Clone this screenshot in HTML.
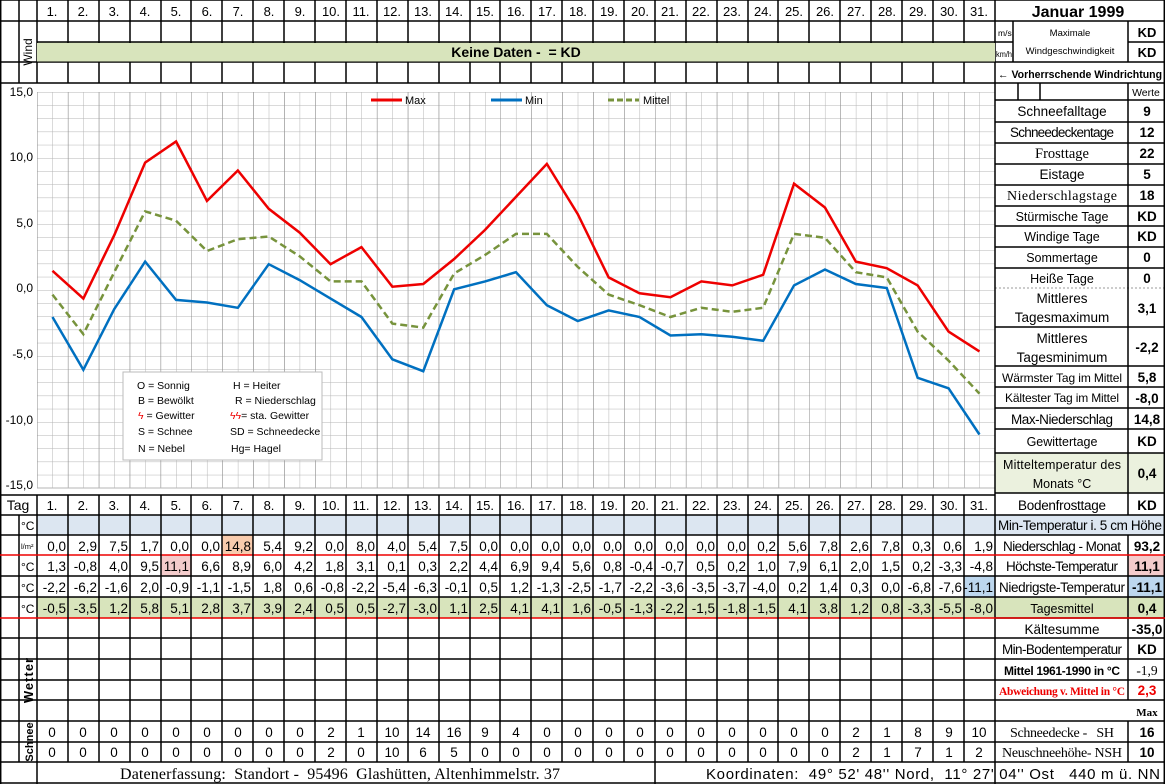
<!DOCTYPE html>
<html><head><meta charset="utf-8"><style>
html,body{margin:0;padding:0;background:#fff;}
svg{display:block;font-family:"Liberation Sans",sans-serif;}
.d{font-size:13px;text-anchor:middle;}
.n{font-size:13.5px;text-anchor:end;}
.c{font-size:13.5px;text-anchor:middle;}
.s{font-family:"Liberation Serif",serif;}
.b{font-weight:bold;}
</style></head><body>
<svg width="1165" height="784" viewBox="0 0 1165 784" xmlns="http://www.w3.org/2000/svg">
<defs>
<pattern id="g" x="37" y="92" width="15.45" height="13.2" patternUnits="userSpaceOnUse">
<path d="M0 0V13.2M0 0H15.45" stroke="#b4b4b4" stroke-width="1" fill="none"/>
</pattern>
<pattern id="g2" x="37" y="92" width="30.9" height="396" patternUnits="userSpaceOnUse">
<path d="M0 0V396" stroke="#8a8a8a" stroke-width="1" fill="none"/>
</pattern>
</defs>
<rect x="37" y="42" width="958" height="20" fill="#d8e4bc"/>
<rect x="37" y="515" width="1128" height="20" fill="#dce6f1"/>
<rect x="37" y="597" width="958" height="21" fill="#d8e4bc"/>
<rect x="1128" y="597" width="37" height="21" fill="#d8e4bc"/>
<rect x="995" y="597" width="133" height="21" fill="#d8e4bc"/>
<rect x="995" y="453" width="170" height="40" fill="#ebf1de"/>
<rect x="222" y="535" width="31" height="20" fill="#f8cbad"/>
<rect x="161" y="555" width="30.9" height="21" fill="#f4cccc"/>
<rect x="964" y="576" width="31" height="21" fill="#bdd7ee"/>
<rect x="1128" y="555" width="37" height="21" fill="#f4cccc"/>
<rect x="1128" y="576" width="37" height="21" fill="#bdd7ee"/>
<rect x="37" y="92" width="958" height="396" fill="url(#g)"/>
<rect x="37" y="92" width="958" height="396" fill="url(#g2)"/>
<line x1="37" y1="488" x2="995" y2="488" stroke="#b4b4b4"/>
<line x1="995" y1="92" x2="995" y2="488" stroke="#8a8a8a"/>
<line x1="995" y1="288" x2="1165" y2="288" stroke="#999" stroke-dasharray="2,2"/>
<g font-size="12" fill="#000" text-anchor="end">
<text x="33" y="96">15,0</text><text x="33" y="161">10,0</text><text x="33" y="227">5,0</text>
<text x="33" y="292">0,0</text><text x="33" y="358">-5,0</text><text x="33" y="424">-10,0</text><text x="33" y="489">-15,0</text>
</g>
<line x1="371" y1="100" x2="402" y2="100" stroke="#e00" stroke-width="3"/><text x="405" y="104" font-size="11">Max</text>
<line x1="491" y1="100" x2="522" y2="100" stroke="#0070c0" stroke-width="3"/><text x="525" y="104" font-size="11">Min</text>
<line x1="608" y1="100" x2="639" y2="100" stroke="#77933c" stroke-width="3" stroke-dasharray="6,3"/><text x="643" y="104" font-size="11">Mittel</text>
<polyline fill="none" stroke="#e00" stroke-width="2.5" points="52.45,270.8 83.35,298.6 114.25,235.2 145.15,162.6 176.05,141.5 206.95,200.9 237.85,170.5 268.75,208.8 299.65,232.6 330.55,264.2 361.45,247.1 392.35,286.7 423.25,284 454.15,259 485.05,229.9 515.95,196.9 546.85,163.9 577.75,214.1 608.65,277.4 639.55,293.3 670.45,297.2 701.35,281.4 732.25,285.4 763.15,274.8 794.05,183.7 824.95,207.5 855.85,261.6 886.75,268.2 917.65,285.4 948.55,331.6 979.45,351.4"/>
<polyline fill="none" stroke="#0070c0" stroke-width="2.5" points="52.45,317 83.35,369.8 114.25,309.1 145.15,261.6 176.05,299.9 206.95,302.5 237.85,307.8 268.75,264.2 299.65,280.1 330.55,298.6 361.45,317 392.35,359.3 423.25,371.2 454.15,289.3 485.05,281.4 515.95,272.2 546.85,305.2 577.75,321 608.65,310.4 639.55,317 670.45,335.5 701.35,334.2 732.25,336.8 763.15,340.8 794.05,285.4 824.95,269.5 855.85,284 886.75,288 917.65,377.8 948.55,388.3 979.45,434.5"/>
<polyline fill="none" stroke="#77933c" stroke-width="2.5" stroke-dasharray="7,4" points="52.45,294.6 83.35,334.2 114.25,272.2 145.15,211.4 176.05,220.7 206.95,251 237.85,239.2 268.75,236.5 299.65,256.3 330.55,281.4 361.45,281.4 392.35,323.6 423.25,327.6 454.15,273.5 485.05,255 515.95,233.9 546.85,233.9 577.75,266.9 608.65,294.6 639.55,305.2 670.45,317 701.35,307.8 732.25,311.8 763.15,307.8 794.05,233.9 824.95,237.8 855.85,272.2 886.75,277.4 917.65,331.6 948.55,360.6 979.45,393.6"/>
<rect x="123" y="372" width="199" height="88" fill="#fff" stroke="#bbb"/>
<g font-size="10.5">
<text x="137" y="389">O = Sonnig</text><text x="233" y="389">H = Heiter</text>
<text x="138" y="404">B = Bewölkt</text><text x="235" y="404">R = Niederschlag</text>
<text x="138" y="419"><tspan fill="#e00">ϟ</tspan> = Gewitter</text><text x="230" y="419"><tspan fill="#e00">ϟϟ</tspan>= sta. Gewitter</text>
<text x="138" y="435">S = Schnee</text><text x="230" y="435">SD = Schneedecke</text>
<text x="138" y="452">N = Nebel</text><text x="231" y="452">Hg= Hagel</text>
</g>
<g stroke="#000" stroke-width="1.5">
<path d="M0 0H1165M0 21H1165M37 42H995M995 42H1013M1128 42H1165M0 62H1165M0 83H1165"/>
<path d="M0 495H995M995 515H1165M0 515H995M0 535H1165M0 576H1165M0 597H1165M0 638H1165M0 659H1165M0 680H1165M0 700H1165M0 721H1165M0 742H1165M0 762H1165M0 783H1165"/>
<path d="M995 100H1165M995 122H1165M995 143H1165M995 164H1165M995 185H1165M995 206H1165M995 226H1165M995 247H1165M995 268H1165M995 327H1165M995 366H1165M995 387H1165M995 408H1165M995 429H1165M995 453H1165M995 493H1165M995 618H1165"/>
<path d="M0.7 0V784M1164.3 0V784M19 0V83M37 0V83M19 515V762M37 495V762M995 0V784M1128 21V42M1128 42V62M1013 21V62M1128 83V515M1018 83V100M1040 83V100M1128 535V700M1128 721V762M655 762V784M37 762V784"/>
</g>
<g stroke="#e00" stroke-width="1.5"><path d="M0 555H1165M0 618H995M995 618H1165"/></g>
<g stroke="#000" stroke-width="1.5">
<path d="M68 0V83M99 0V83M130 0V83M161 0V83M191 0V83M222 0V83M253 0V83M284 0V83M315 0V83M346 0V83M377 0V83M408 0V83M439 0V83M470 0V83M500 0V83M531 0V83M562 0V83M593 0V83M624 0V83M655 0V83M686 0V83M717 0V83M748 0V83M778 0V83M809 0V83M840 0V83M871 0V83M902 0V83M933 0V83M964 0V83"/>
<path d="M68 495V762M99 495V762M130 495V762M161 495V762M191 495V762M222 495V762M253 495V762M284 495V762M315 495V762M346 495V762M377 495V762M408 495V762M439 495V762M470 495V762M500 495V762M531 495V762M562 495V762M593 495V762M624 495V762M655 495V762M686 495V762M717 495V762M748 495V762M778 495V762M809 495V762M840 495V762M871 495V762M902 495V762M933 495V762M964 495V762"/>
</g>
<rect x="37" y="43" width="958" height="18.5" fill="#d8e4bc"/>
<g class="d">
<text x="52" y="16">1.</text><text x="83" y="16">2.</text><text x="114" y="16">3.</text><text x="145" y="16">4.</text><text x="176" y="16">5.</text><text x="207" y="16">6.</text><text x="238" y="16">7.</text><text x="269" y="16">8.</text><text x="300" y="16">9.</text><text x="331" y="16">10.</text><text x="361" y="16">11.</text><text x="392" y="16">12.</text><text x="423" y="16">13.</text><text x="454" y="16">14.</text><text x="485" y="16">15.</text><text x="516" y="16">16.</text><text x="547" y="16">17.</text><text x="578" y="16">18.</text><text x="609" y="16">19.</text><text x="640" y="16">20.</text><text x="670" y="16">21.</text><text x="701" y="16">22.</text><text x="732" y="16">23.</text><text x="763" y="16">24.</text><text x="794" y="16">25.</text><text x="825" y="16">26.</text><text x="856" y="16">27.</text><text x="887" y="16">28.</text><text x="918" y="16">29.</text><text x="949" y="16">30.</text><text x="979" y="16">31.</text>
</g>
<g class="d">
<text x="18" y="510" font-size="14">Tag</text>
<text x="52" y="510">1.</text><text x="83" y="510">2.</text><text x="114" y="510">3.</text><text x="145" y="510">4.</text><text x="176" y="510">5.</text><text x="207" y="510">6.</text><text x="238" y="510">7.</text><text x="269" y="510">8.</text><text x="300" y="510">9.</text><text x="331" y="510">10.</text><text x="361" y="510">11.</text><text x="392" y="510">12.</text><text x="423" y="510">13.</text><text x="454" y="510">14.</text><text x="485" y="510">15.</text><text x="516" y="510">16.</text><text x="547" y="510">17.</text><text x="578" y="510">18.</text><text x="609" y="510">19.</text><text x="640" y="510">20.</text><text x="670" y="510">21.</text><text x="701" y="510">22.</text><text x="732" y="510">23.</text><text x="763" y="510">24.</text><text x="794" y="510">25.</text><text x="825" y="510">26.</text><text x="856" y="510">27.</text><text x="887" y="510">28.</text><text x="918" y="510">29.</text><text x="949" y="510">30.</text><text x="979" y="510">31.</text>
</g>
<text x="516" y="57" font-size="14" class="b" text-anchor="middle" xml:space="preserve">Keine Daten -  = KD</text>
<text transform="translate(32,52) rotate(-90)" font-size="12" text-anchor="middle">Wind</text>
<text transform="translate(33,680) rotate(-90)" font-size="13" class="b" text-anchor="middle" letter-spacing="1">Wetter</text>
<text transform="translate(33,742) rotate(-90)" font-size="11" class="b" text-anchor="middle">Schnee</text>
<g font-size="12"><text x="21" y="530">°C</text><text x="21" y="571">°C</text><text x="21" y="592">°C</text><text x="21" y="613">°C</text><text x="21" y="549" font-size="7.5">l/m²</text></g>
<g class="n">
<text x="66" y="551">0,0</text><text x="97" y="551">2,9</text><text x="128" y="551">7,5</text><text x="159" y="551">1,7</text><text x="189" y="551">0,0</text><text x="220" y="551">0,0</text><text x="251" y="551">14,8</text><text x="282" y="551">5,4</text><text x="313" y="551">9,2</text><text x="344" y="551">0,0</text><text x="375" y="551">8,0</text><text x="406" y="551">4,0</text><text x="437" y="551">5,4</text><text x="468" y="551">7,5</text><text x="498" y="551">0,0</text><text x="529" y="551">0,0</text><text x="560" y="551">0,0</text><text x="591" y="551">0,0</text><text x="622" y="551">0,0</text><text x="653" y="551">0,0</text><text x="684" y="551">0,0</text><text x="715" y="551">0,0</text><text x="746" y="551">0,0</text><text x="776" y="551">0,2</text><text x="807" y="551">5,6</text><text x="838" y="551">7,8</text><text x="869" y="551">2,6</text><text x="900" y="551">7,8</text><text x="931" y="551">0,3</text><text x="962" y="551">0,6</text><text x="993" y="551">1,9</text>
</g>
<g class="n">
<text x="66" y="571">1,3</text><text x="97" y="571">-0,8</text><text x="128" y="571">4,0</text><text x="159" y="571">9,5</text><text x="189" y="571">11,1</text><text x="220" y="571">6,6</text><text x="251" y="571">8,9</text><text x="282" y="571">6,0</text><text x="313" y="571">4,2</text><text x="344" y="571">1,8</text><text x="375" y="571">3,1</text><text x="406" y="571">0,1</text><text x="437" y="571">0,3</text><text x="468" y="571">2,2</text><text x="498" y="571">4,4</text><text x="529" y="571">6,9</text><text x="560" y="571">9,4</text><text x="591" y="571">5,6</text><text x="622" y="571">0,8</text><text x="653" y="571">-0,4</text><text x="684" y="571">-0,7</text><text x="715" y="571">0,5</text><text x="746" y="571">0,2</text><text x="776" y="571">1,0</text><text x="807" y="571">7,9</text><text x="838" y="571">6,1</text><text x="869" y="571">2,0</text><text x="900" y="571">1,5</text><text x="931" y="571">0,2</text><text x="962" y="571">-3,3</text><text x="993" y="571">-4,8</text>
</g>
<g class="n">
<text x="66" y="592">-2,2</text><text x="97" y="592">-6,2</text><text x="128" y="592">-1,6</text><text x="159" y="592">2,0</text><text x="189" y="592">-0,9</text><text x="220" y="592">-1,1</text><text x="251" y="592">-1,5</text><text x="282" y="592">1,8</text><text x="313" y="592">0,6</text><text x="344" y="592">-0,8</text><text x="375" y="592">-2,2</text><text x="406" y="592">-5,4</text><text x="437" y="592">-6,3</text><text x="468" y="592">-0,1</text><text x="498" y="592">0,5</text><text x="529" y="592">1,2</text><text x="560" y="592">-1,3</text><text x="591" y="592">-2,5</text><text x="622" y="592">-1,7</text><text x="653" y="592">-2,2</text><text x="684" y="592">-3,6</text><text x="715" y="592">-3,5</text><text x="746" y="592">-3,7</text><text x="776" y="592">-4,0</text><text x="807" y="592">0,2</text><text x="838" y="592">1,4</text><text x="869" y="592">0,3</text><text x="900" y="592">0,0</text><text x="931" y="592">-6,8</text><text x="962" y="592">-7,6</text><text x="993" y="592">-11,1</text>
</g>
<g class="n">
<text x="66" y="613">-0,5</text><text x="97" y="613">-3,5</text><text x="128" y="613">1,2</text><text x="159" y="613">5,8</text><text x="189" y="613">5,1</text><text x="220" y="613">2,8</text><text x="251" y="613">3,7</text><text x="282" y="613">3,9</text><text x="313" y="613">2,4</text><text x="344" y="613">0,5</text><text x="375" y="613">0,5</text><text x="406" y="613">-2,7</text><text x="437" y="613">-3,0</text><text x="468" y="613">1,1</text><text x="498" y="613">2,5</text><text x="529" y="613">4,1</text><text x="560" y="613">4,1</text><text x="591" y="613">1,6</text><text x="622" y="613">-0,5</text><text x="653" y="613">-1,3</text><text x="684" y="613">-2,2</text><text x="715" y="613">-1,5</text><text x="746" y="613">-1,8</text><text x="776" y="613">-1,5</text><text x="807" y="613">4,1</text><text x="838" y="613">3,8</text><text x="869" y="613">1,2</text><text x="900" y="613">0,8</text><text x="931" y="613">-3,3</text><text x="962" y="613">-5,5</text><text x="993" y="613">-8,0</text>
</g>
<g class="c">
<text x="52" y="737">0</text><text x="83" y="737">0</text><text x="114" y="737">0</text><text x="145" y="737">0</text><text x="176" y="737">0</text><text x="207" y="737">0</text><text x="238" y="737">0</text><text x="269" y="737">0</text><text x="300" y="737">0</text><text x="331" y="737">2</text><text x="361" y="737">1</text><text x="392" y="737">10</text><text x="423" y="737">14</text><text x="454" y="737">16</text><text x="485" y="737">9</text><text x="516" y="737">4</text><text x="547" y="737">0</text><text x="578" y="737">0</text><text x="609" y="737">0</text><text x="640" y="737">0</text><text x="670" y="737">0</text><text x="701" y="737">0</text><text x="732" y="737">0</text><text x="763" y="737">0</text><text x="794" y="737">0</text><text x="825" y="737">0</text><text x="856" y="737">2</text><text x="887" y="737">1</text><text x="918" y="737">8</text><text x="949" y="737">9</text><text x="979" y="737">10</text>
</g>
<g class="c">
<text x="52" y="757">0</text><text x="83" y="757">0</text><text x="114" y="757">0</text><text x="145" y="757">0</text><text x="176" y="757">0</text><text x="207" y="757">0</text><text x="238" y="757">0</text><text x="269" y="757">0</text><text x="300" y="757">0</text><text x="331" y="757">2</text><text x="361" y="757">0</text><text x="392" y="757">10</text><text x="423" y="757">6</text><text x="454" y="757">5</text><text x="485" y="757">0</text><text x="516" y="757">0</text><text x="547" y="757">0</text><text x="578" y="757">0</text><text x="609" y="757">0</text><text x="640" y="757">0</text><text x="670" y="757">0</text><text x="701" y="757">0</text><text x="732" y="757">0</text><text x="763" y="757">0</text><text x="794" y="757">0</text><text x="825" y="757">0</text><text x="856" y="757">2</text><text x="887" y="757">1</text><text x="918" y="757">7</text><text x="949" y="757">1</text><text x="979" y="757">2</text>
</g>
<text x="1078" y="17" font-size="16" class="b" text-anchor="middle">Januar 1999</text>
<text x="998" y="36" font-size="8.5">m/s</text><text x="996" y="57" font-size="8" textLength="16" lengthAdjust="spacingAndGlyphs">km/h</text>
<text x="1070" y="36" font-size="9.5" text-anchor="middle">Maximale</text>
<text x="1070" y="54" font-size="9.5" text-anchor="middle">Windgeschwindigkeit</text>
<g class="b" font-size="13" text-anchor="middle"><text x="1147" y="37">KD</text><text x="1147" y="57">KD</text></g>
<text x="998" y="78" font-size="11" class="b" textLength="164" lengthAdjust="spacingAndGlyphs">← Vorherrschende Windrichtung</text>
<text x="1146" y="96" font-size="10.5" text-anchor="middle">Werte</text>
<g font-size="13.5" text-anchor="middle" lengthAdjust="spacingAndGlyphs">
<text x="1062" y="116">Schneefalltage</text>
<text x="1062" y="137" textLength="104">Schneedeckentage</text>
<text x="1062" y="158" class="s" font-size="14.5">Frosttage</text>
<text x="1062" y="179">Eistage</text>
<text x="1062" y="200" class="s" font-size="14" textLength="110">Niederschlagstage</text>
<text x="1062" y="221" font-size="12.5">Stürmische Tage</text>
<text x="1062" y="241" font-size="12.5">Windige Tage</text>
<text x="1062" y="262" font-size="12.5">Sommertage</text>
<text x="1062" y="283" font-size="12.5">Heiße Tage</text>
<text x="1062" y="303">Mittleres</text><text x="1062" y="322">Tagesmaximum</text>
<text x="1062" y="343">Mittleres</text><text x="1062" y="362">Tagesminimum</text>
<text x="1062" y="382" font-size="12" textLength="120">Wärmster Tag im Mittel</text>
<text x="1062" y="402" font-size="12" textLength="114">Kältester Tag im Mittel</text>
<text x="1062" y="424" textLength="102">Max-Niederschlag</text>
<text x="1062" y="446" font-size="12.5">Gewittertage</text>
<text x="1062" y="469" font-size="12.5" textLength="118">Mitteltemperatur des</text><text x="1062" y="488" font-size="12.5">Monats °C</text>
<text x="1062" y="510" textLength="88">Bodenfrosttage</text>
<text x="1080" y="530" textLength="164">Min-Temperatur i. 5 cm Höhe</text>
<text x="1062" y="551" textLength="118">Niederschlag - Monat</text>
<text x="1062" y="571" textLength="112">Höchste-Temperatur</text>
<text x="1062" y="592" textLength="126">Niedrigste-Temperatur</text>
<text x="1062" y="613" font-size="12.5">Tagesmittel</text>
<text x="1062" y="634">Kältesumme</text>
<text x="1062" y="654" textLength="120">Min-Bodentemperatur</text>
<text x="1062" y="675" font-size="12" class="b" textLength="116">Mittel 1961-1990 in °C</text>
<text x="1062" y="695" font-size="11.5" class="b s" fill="#e00" textLength="126">Abweichung v. Mittel in °C</text>
<text x="1062" y="737" class="s" font-size="14" xml:space="preserve" textLength="104">Schneedecke -   SH</text>
<text x="1062" y="757" class="s" font-size="14" textLength="120">Neuschneehöhe- NSH</text>
</g>
<g font-size="13.5" class="b" text-anchor="middle">
<text x="1147" y="116">9</text><text x="1147" y="137">12</text><text x="1147" y="158">22</text><text x="1147" y="179">5</text><text x="1147" y="200">18</text>
<text x="1147" y="221">KD</text><text x="1147" y="241">KD</text><text x="1147" y="262">0</text><text x="1147" y="283">0</text>
<text x="1147" y="313">3,1</text><text x="1147" y="352">-2,2</text><text x="1147" y="382">5,8</text><text x="1147" y="403">-8,0</text>
<text x="1147" y="424">14,8</text><text x="1147" y="446">KD</text><text x="1147" y="478">0,4</text><text x="1147" y="510">KD</text>
<text x="1147" y="551">93,2</text><text x="1147" y="571">11,1</text><text x="1147" y="592">-11,1</text><text x="1147" y="613">0,4</text>
<text x="1147" y="634">-35,0</text><text x="1147" y="654">KD</text>
<text x="1147" y="675" class="s" font-weight="normal">-1,9</text>
<text x="1147" y="695" fill="#e00">2,3</text>
<text x="1147" y="716" class="s" font-size="11">Max</text>
<text x="1147" y="737">16</text><text x="1147" y="757">10</text>
</g>
<text x="120" y="779" class="s" font-size="16" xml:space="preserve" textLength="440" lengthAdjust="spacing">Datenerfassung:  Standort -  95496  Glashütten, Altenhimmelstr. 37</text>
<text x="706" y="779" font-size="15" xml:space="preserve" textLength="454" lengthAdjust="spacing">Koordinaten:  49° 52' 48'' Nord,  11° 27' 04'' Ost   440 m ü. NN</text>
</svg>
</body></html>
